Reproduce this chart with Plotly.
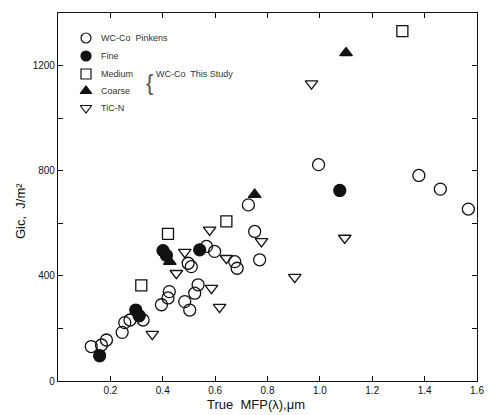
import plotly.graph_objects as go

# --- data ---
pinkens_x = [0.127, 0.166, 0.185, 0.245, 0.255, 0.275, 0.325, 0.395, 0.42, 0.425, 0.484, 0.503,
             0.522, 0.535, 0.497, 0.509, 0.567, 0.598, 0.675, 0.684, 0.727, 0.751, 0.77,
             0.995, 1.378, 1.46, 1.567]
pinkens_y = [131, 137, 156, 185, 222, 232, 232, 290, 316, 340, 302, 270,
             334, 366, 448, 435, 512, 493, 454, 429, 670, 569, 461,
             823, 782, 730, 654]

fine_x = [0.159, 0.297, 0.31, 0.401, 0.414, 0.541, 1.076]
fine_y = [96, 270, 248, 496, 478, 499, 725]

medium_x = [0.318, 0.42, 0.643, 1.315]
medium_y = [364, 560, 607, 1331]

coarse_x = [0.427, 0.751, 1.10]
coarse_y = [454, 709, 1248]

ticn_x = [0.36, 0.452, 0.484, 0.579, 0.586, 0.617, 0.643, 0.777, 0.904, 0.968, 1.095]
ticn_y = [178, 410, 490, 575, 353, 281, 467, 531, 395, 1131, 544]

series_names = ["WC-Co  Pinkens", "Fine", "Medium", "Coarse", "TiC-N"]

x_ticks = [0.2, 0.4, 0.6, 0.8, 1.0, 1.2, 1.4, 1.6]
x_ticklabels = ["0.2", "0.4", "0.6", "0.8", "1.0", "1.2", "1.4", "1.6"]
y_ticks = [0, 400, 800, 1200]
y_ticklabels = ["0", "400", "800", "1200"]

FONT = "Liberation Sans, Arial, sans-serif"
INK = "#111111"
SOFT = "#333333"

W, H = 494, 415
PLOT_L, PLOT_R, PLOT_T, PLOT_B = 58, 477, 13, 381   # plot area in window pixels
ML, MT, MR, MB = PLOT_L, PLOT_T, W - PLOT_R, H - PLOT_B
PW, PH = PLOT_R - PLOT_L, PLOT_B - PLOT_T

def px_x(p):  # window pixel -> paper fraction
    return (p - PLOT_L) / PW

def px_y(p):
    return (PLOT_B - p) / PH

symbols = ["circle-open", "circle", "square-open", "triangle-up", "triangle-down-open"]
sizes = [12, 12, 11, 11, 11]
data = [(pinkens_x, pinkens_y), (fine_x, fine_y), (medium_x, medium_y),
        (coarse_x, coarse_y), (ticn_x, ticn_y)]

fig = go.Figure()
for name, (xs, ys), sym, sz in zip(series_names, data, symbols, sizes):
    fig.add_trace(go.Scatter(
        x=xs, y=ys, mode="markers", name=name, showlegend=False,
        marker=dict(symbol=sym, size=sz, color=INK, line=dict(color=INK, width=1.3)),
    ))

# hand-drawn legend on an overlay axis (0..1 box over the plot area)
legend_rows_px = [38, 56, 74, 91, 108]
legend_marker_px = 86
legend_text_px = 99
fig.add_trace(go.Scatter(
    x=[px_x(legend_marker_px)] * 5, y=[px_y(r) for r in legend_rows_px],
    xaxis="x2", yaxis="y2", mode="markers", showlegend=False, hoverinfo="skip",
    marker=dict(symbol=symbols, size=10, color=INK, line=dict(color=INK, width=1.2)),
))
for name, r in zip(series_names, legend_rows_px):
    fig.add_annotation(xref="paper", yref="paper", x=px_x(legend_text_px), y=px_y(r),
                       text=name, showarrow=False, xanchor="left", yanchor="middle",
                       font=dict(size=9, color=SOFT))
fig.add_annotation(xref="paper", yref="paper", x=px_x(149), y=px_y(82),
                   text="{", showarrow=False, font=dict(size=22, color="#555555"),
                   xanchor="center", yanchor="middle")
fig.add_annotation(xref="paper", yref="paper", x=px_x(154), y=px_y(74),
                   text="WC-Co  This Study", showarrow=False,
                   font=dict(size=9, color=SOFT), xanchor="left", yanchor="middle")

# axis titles
fig.add_annotation(xref="paper", yref="paper", x=px_x(256), y=px_y(404),
                   text="True  MFP(λ),μm", showarrow=False,
                   font=dict(size=13, color=INK), xanchor="center", yanchor="middle")
fig.add_annotation(xref="paper", yref="paper", x=px_x(20), y=px_y(211),
                   text="Gic,  J/m²", showarrow=False, textangle=-90,
                   font=dict(size=13, color=INK), xanchor="center", yanchor="middle")

fig.update_layout(
    width=W, height=H,
    margin=dict(l=ML, r=MR, t=MT, b=MB, autoexpand=False),
    paper_bgcolor="white", plot_bgcolor="white",
    font=dict(family=FONT, size=10, color=INK),
    showlegend=False,
    xaxis=dict(range=[0, 1.6], tickvals=x_ticks, ticktext=x_ticklabels,
               showgrid=False, zeroline=False, showline=True, linecolor=INK,
               linewidth=1.2, mirror="ticks", ticks="inside", ticklen=5,
               tickcolor=INK, tickfont=dict(size=10), automargin=False),
    yaxis=dict(range=[0, 1400], tickvals=y_ticks, ticktext=y_ticklabels,
               showgrid=False, zeroline=False, showline=True, linecolor=INK,
               linewidth=1.2, mirror="ticks", ticks="inside", ticklen=5,
               tickcolor=INK, tickfont=dict(size=10), automargin=False,
               minor=dict(tickvals=[200, 600, 1000], ticks="inside", ticklen=5,
                          tickcolor=INK)),
    xaxis2=dict(range=[0, 1], overlaying="x", visible=False, fixedrange=True),
    yaxis2=dict(range=[0, 1], overlaying="y", visible=False, fixedrange=True),
)

# remove the browser's default 8px body margin so the figure fills the window
fig.write_html("out.html",
               config={"displayModeBar": False},
               post_script="document.body.style.margin='0';"
                           "document.body.style.overflow='hidden';")
